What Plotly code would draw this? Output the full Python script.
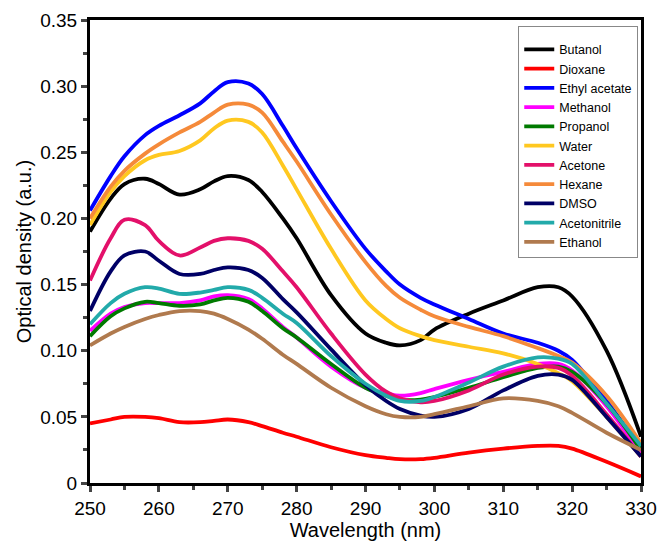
import plotly.graph_objects as go

wl = [250, 253, 255, 258, 260, 263, 266, 268, 270, 273, 275, 278, 280, 285, 290, 293, 295, 298, 300, 305, 310, 315, 318, 320, 325, 330]

butanol      = [0.190, 0.215, 0.226, 0.230, 0.226, 0.218, 0.222, 0.228, 0.232, 0.229, 0.220, 0.200, 0.185, 0.142, 0.113, 0.106, 0.104, 0.108, 0.116, 0.128, 0.138, 0.148, 0.148, 0.141, 0.100, 0.035]
dioxane      = [0.045, 0.048, 0.050, 0.050, 0.049, 0.046, 0.046, 0.047, 0.048, 0.046, 0.043, 0.038, 0.035, 0.027, 0.021, 0.019, 0.018, 0.018, 0.019, 0.023, 0.026, 0.028, 0.028, 0.026, 0.016, 0.005]
ethyl_acet   = [0.206, 0.232, 0.247, 0.263, 0.270, 0.278, 0.287, 0.296, 0.303, 0.302, 0.294, 0.270, 0.253, 0.213, 0.177, 0.160, 0.150, 0.140, 0.135, 0.124, 0.113, 0.106, 0.100, 0.093, 0.062, 0.025]
methanol     = [0.115, 0.128, 0.133, 0.136, 0.136, 0.136, 0.138, 0.141, 0.142, 0.139, 0.132, 0.118, 0.110, 0.088, 0.072, 0.068, 0.066, 0.068, 0.071, 0.078, 0.084, 0.090, 0.090, 0.085, 0.058, 0.022]
propanol     = [0.111, 0.126, 0.132, 0.137, 0.136, 0.134, 0.135, 0.138, 0.140, 0.137, 0.130, 0.117, 0.110, 0.090, 0.072, 0.066, 0.063, 0.063, 0.065, 0.072, 0.080, 0.087, 0.088, 0.084, 0.060, 0.025]
water        = [0.195, 0.220, 0.232, 0.244, 0.248, 0.251, 0.259, 0.268, 0.274, 0.273, 0.265, 0.240, 0.222, 0.177, 0.138, 0.124, 0.117, 0.111, 0.108, 0.103, 0.098, 0.090, 0.083, 0.077, 0.050, 0.020]
acetone      = [0.153, 0.185, 0.199, 0.195, 0.183, 0.172, 0.178, 0.183, 0.185, 0.183, 0.177, 0.160, 0.148, 0.113, 0.082, 0.069, 0.064, 0.061, 0.062, 0.070, 0.082, 0.088, 0.087, 0.081, 0.052, 0.020]
hexane       = [0.200, 0.224, 0.236, 0.249, 0.256, 0.265, 0.273, 0.280, 0.286, 0.286, 0.280, 0.258, 0.243, 0.203, 0.167, 0.149, 0.140, 0.131, 0.126, 0.118, 0.111, 0.102, 0.096, 0.091, 0.066, 0.030]
dmso         = [0.130, 0.160, 0.172, 0.175, 0.168, 0.158, 0.158, 0.161, 0.163, 0.161, 0.155, 0.139, 0.129, 0.101, 0.074, 0.062, 0.056, 0.051, 0.050, 0.056, 0.070, 0.081, 0.082, 0.078, 0.050, 0.020]
acetonitrile = [0.120, 0.136, 0.143, 0.148, 0.147, 0.143, 0.144, 0.146, 0.148, 0.146, 0.140, 0.128, 0.121, 0.096, 0.075, 0.066, 0.062, 0.062, 0.065, 0.076, 0.088, 0.095, 0.094, 0.090, 0.060, 0.028]
ethanol      = [0.104, 0.113, 0.118, 0.124, 0.127, 0.130, 0.130, 0.128, 0.124, 0.116, 0.109, 0.097, 0.090, 0.072, 0.058, 0.052, 0.050, 0.050, 0.052, 0.058, 0.064, 0.062, 0.058, 0.053, 0.038, 0.025]

names = ["Butanol", "Dioxane", "Ethyl acetate", "Methanol", "Propanol", "Water",
         "Acetone", "Hexane", "DMSO", "Acetonitrile", "Ethanol"]
series = [butanol, dioxane, ethyl_acet, methanol, propanol, water,
          acetone, hexane, dmso, acetonitrile, ethanol]
colors = ["#000000", "#ff0000", "#0000ff", "#ff00ff", "#007a00", "#ffc820",
          "#e3106a", "#f58a3a", "#000066", "#22aaaa", "#b07a4e"]

fig = go.Figure()
for n, s, c in zip(names, series, colors):
    fig.add_trace(go.Scatter(x=wl, y=s, name=n, mode="lines",
                             line=dict(color=c, width=3.8, shape="spline", smoothing=1.0)))

font = "Liberation Sans, Arial, sans-serif"
fig.update_layout(
    width=658, height=547,
    margin=dict(l=90, r=17, t=20, b=64),
    plot_bgcolor="white", paper_bgcolor="white",
    font=dict(family=font, color="black"),
    showlegend=True,
    legend=dict(x=0.995, y=0.987, xanchor="right", yanchor="top",
                bgcolor="white", bordercolor="#888888", borderwidth=1,
                font=dict(size=12.5, family=font), tracegroupgap=0,
                itemwidth=30, title=dict(text=" ", font=dict(size=6))),
    xaxis=dict(range=[250, 330], dtick=10, tick0=250, ticks="outside", ticklen=6,
               tickwidth=3, showline=True, linewidth=3, linecolor="black", mirror=True,
               showgrid=False, zeroline=False, tickfont=dict(size=19), automargin=False,
               minor=dict(dtick=5, ticks="outside", ticklen=4, tickwidth=3, showgrid=False),
               title=dict(text="Wavelength (nm)", font=dict(size=20), standoff=6)),
    yaxis=dict(range=[0, 0.35], dtick=0.05, ticks="outside", ticklen=6,
               tickwidth=3, showline=True, linewidth=3, linecolor="black", mirror=True,
               showgrid=False, zeroline=False, tickfont=dict(size=19), automargin=False,
               tickvals=[0, 0.05, 0.10, 0.15, 0.20, 0.25, 0.30, 0.35],
               ticktext=["0", "0.05", "0.10", "0.15", "0.20", "0.25", "0.30", "0.35"],
               minor=dict(dtick=0.025, ticks="outside", ticklen=4, tickwidth=3, showgrid=False),
               title=dict(text="Optical density (a.u.)", font=dict(size=20), standoff=4)),
)
fig.write_html("out.html", config={"displayModeBar": False},
               post_script="document.body.style.margin='0';document.body.style.overflow='hidden';")
